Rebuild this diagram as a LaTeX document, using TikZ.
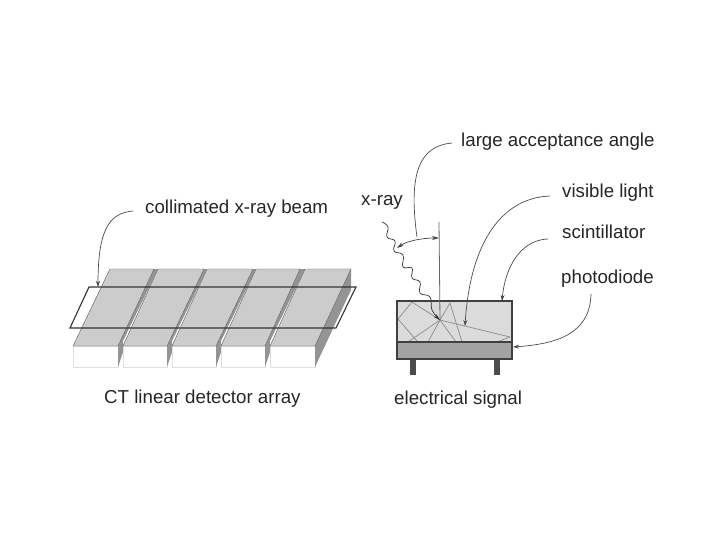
\documentclass[tikz,border=0pt]{standalone}
\usepackage{fontspec}
\setmainfont{Liberation Sans}
\usetikzlibrary{arrows.meta}
\definecolor{topgray}{gray}{0.80}
\definecolor{sidegray}{gray}{0.58}
\definecolor{scintgray}{gray}{0.86}
\definecolor{diodegray}{gray}{0.64}
\definecolor{inkline}{gray}{0.35}
\definecolor{raygray}{gray}{0.55}
\tikzset{
  lbl/.style={anchor=base west,inner sep=0pt,font=\fontsize{18.7}{22}\selectfont,text=black!85},
  topface/.style={fill=topgray,draw=inkline,line width=0.4pt},
  frontface/.style={fill=white,draw=black!12,line width=0.5pt},
  sideface/.style={fill=sidegray,draw=none},
  beam/.style={draw=black!80,line width=1.1pt},
  leader/.style={draw=black!70,line width=0.7pt,-{Stealth[length=6pt,width=4pt]}},
  housing/.style={draw=black!75,line width=1.5pt},
  ray/.style={draw=raygray,line width=0.7pt},
  legbar/.style={fill=black!70,draw=none}
}
\begin{document}
\begin{tikzpicture}[x=1pt,y=-1pt]
\useasboundingbox (0,0) rectangle (720,540);
\fill[white] (0,0) rectangle (720,540);
% detector blocks
\foreach \fl/\fr/\bl/\br/\nx in {73/118/110/154/158,123/167/158/204/207,172/216/207/253/256,221/265/256/300/305}{
  \path[frontface] (\fl,346) rectangle (\fr,367);
  \path[sideface] (\fr,346) -- (\br,269) -- (\nx,269) -- (\fr+5,341) -- (\fr+5,352) -- (\fr,367) -- cycle;
  \path[topface] (\fl,346) -- (\bl,269) -- (\br,269) -- (\fr,346) -- cycle;
}
\path[frontface] (270,346) rectangle (315,367);
\path[sideface] (315,346) -- (351,269) -- (351,290) -- (315,367) -- cycle;
\path[topface] (270,346) -- (305,269) -- (351,269) -- (315,346) -- cycle;
% beam outline
\coordinate (bA) at (89,287);
\coordinate (bB) at (356,287);
\coordinate (bC) at (336,328);
\coordinate (bD) at (70,328);
\draw[beam] (bA) -- (bB) -- (bC) -- (bD) -- cycle;
% scintillator and photodiode
\fill[scintgray] (397,301) rectangle (512,342);
\fill[diodegray] (397,342) rectangle (512,359);
\path[legbar] (410,359) rectangle (416,375);
\path[legbar] (494,359) rectangle (500,375);
% light rays
\coordinate (hit) at (440,320);
\draw[ray] (hit) -- (412,302) -- (398,319) -- (417,341);
\draw[ray] (hit) -- (408,342);
\draw[ray] (hit) -- (428,342);
\draw[ray] (hit) -- (450,303) -- (462,342);
\draw[ray] (hit) -- (456,342);
\draw[ray] (hit) -- (510,337) -- (497,342);
\draw[housing] (397,301) rectangle (512,359);
\draw[housing] (397,342) -- (512,342);
% normal line
\coordinate (normtop) at (439,222);
\draw[draw=black!60,line width=0.8pt] (normtop) -- (hit);
% wavy x-ray
\coordinate (waveA) at (382,222);
\draw[draw=black!80,line width=0.7pt,-{Stealth[length=7pt,width=4pt]}] plot[smooth,tension=0.75] coordinates {(waveA) (388,227) (387,237) (395,241) (394,251) (403,255) (403,267) (412,268) (412,278) (420,282) (420,293) (430,297) (432,310) (hit)};
% acceptance arc
\coordinate (arcL) at (397,248);
\coordinate (arcR) at (439,238);
\draw[draw=black!75,line width=0.7pt,{Stealth[length=7pt,width=4pt]}-{Stealth[length=7pt,width=4pt]}] (arcL) .. controls (407,241) and (422,238) .. (arcR);
% labels
\node[lbl] (beamlbl) at (145,214) {collimated x-ray beam};
\node[lbl] (xray) at (361,206) {x-ray};
\node[lbl] (angle) at (461,147) {large acceptance angle};
\node[lbl] (vis) at (562,197) {visible light};
\node[lbl] (sci) at (562,239) {scintillator};
\node[lbl] (pho) at (561,283) {photodiode};
\node[lbl] (array) at (104,403) {CT linear detector array};
\node[lbl] (sig) at (394,404) {electrical signal};
% leaders
\coordinate (lb1) at (133,211);
\coordinate (lb2) at (98,287);
\draw[leader] (lb1) .. controls (108,213) and (98,232) .. (lb2);
\coordinate (la1) at (452,143);
\coordinate (la2) at (417,237);
\draw[draw=black!70,line width=0.7pt] (la1) .. controls (420,146) and (408,172) .. (la2);
\coordinate (lv1) at (550,196);
\coordinate (lv2) at (465,326);
\draw[leader] (lv1) .. controls (500,198) and (470,245) .. (lv2);
\coordinate (ls1) at (548,239);
\coordinate (ls2) at (502,301);
\draw[leader] (ls1) .. controls (520,240) and (505,268) .. (ls2);
\coordinate (lp1) at (591,294);
\coordinate (lp2) at (513,347);
\draw[leader] (lp1) .. controls (590,335) and (555,344) .. (lp2);
\end{tikzpicture}
\end{document}
